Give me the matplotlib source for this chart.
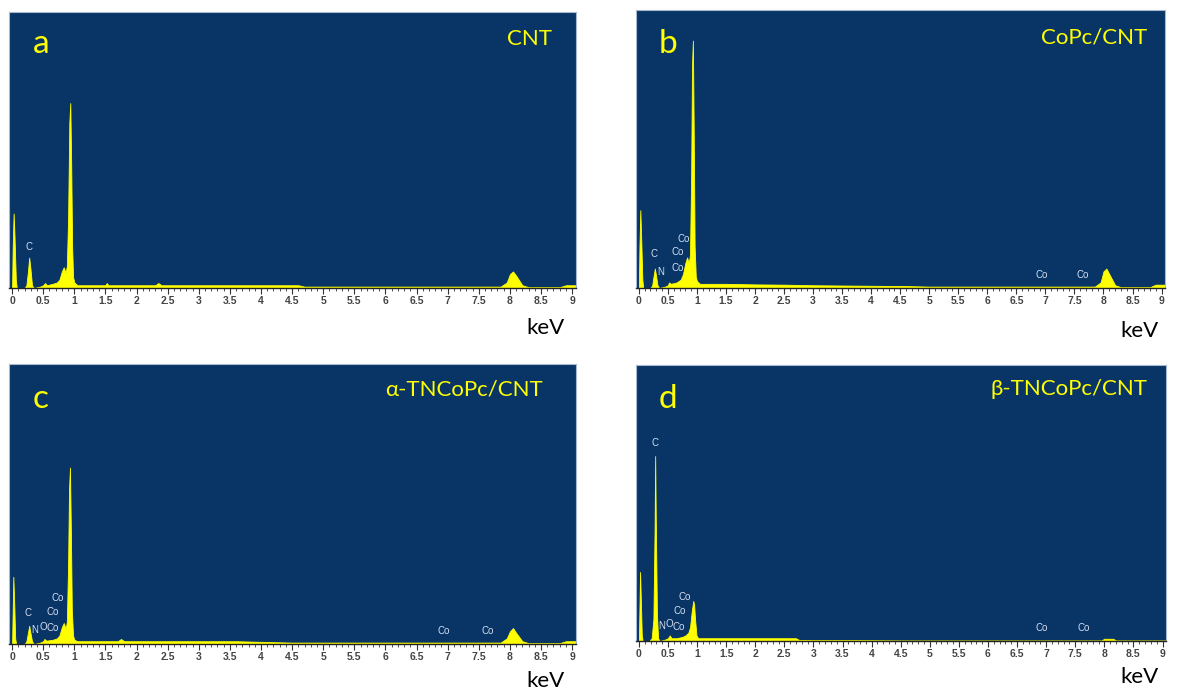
import matplotlib
matplotlib.use("Agg")
import matplotlib.pyplot as plt
import numpy as np
from matplotlib.ticker import MultipleLocator

# EDS spectra, outline points (energy in keV, counts in % of full scale)
e_a = [0.0, 0.01, 0.025, 0.04, 0.06, 0.075, 0.20, 0.23, 0.255, 0.275, 0.295, 0.32, 0.35, 0.45, 0.50,
       0.53, 0.56, 0.65, 0.72, 0.76, 0.80, 0.83, 0.86, 0.88, 0.90, 0.92, 0.935, 0.95, 0.965, 0.98, 1.0,
       1.05, 1.5, 1.52, 1.55, 2.3, 2.35, 2.4, 3.5, 4.6, 4.7, 5.0, 7.85, 7.95, 8.0, 8.05, 8.1, 8.2, 8.3,
       8.8, 8.9, 9.05]
c_a = [0, 15, 27, 18, 3, 0, 0, 1, 6, 11, 7, 1, 0, 0.5, 1,
       1.8, 1, 1.5, 2, 3, 6, 7.5, 5.5, 8, 25, 60, 67, 45, 15, 4, 2,
       1, 1, 1.8, 1, 1, 1.8, 1, 1, 1, 0.5, 0.5, 0.5, 2, 5, 6, 4.5, 1, 0.3,
       0.3, 1, 1]

e_b = [0.0, 0.01, 0.025, 0.04, 0.06, 0.075, 0.20, 0.23, 0.255, 0.275, 0.295, 0.32, 0.35, 0.45, 0.50,
       0.52, 0.55, 0.65, 0.72, 0.76, 0.80, 0.83, 0.86, 0.88, 0.90, 0.915, 0.93, 0.945, 0.96, 0.98, 1.0,
       1.05, 1.5, 2.0, 2.5, 3.0, 4.0, 4.6, 5.0, 7.85, 7.95, 8.0, 8.05, 8.1, 8.2, 8.3, 8.8, 8.9, 9.05]
c_b = [0, 15, 28, 18, 3, 0, 0, 1, 4.5, 7, 4.5, 1, 0, 0.5, 1,
       2, 1.5, 2, 3, 5, 9, 11, 9, 12, 40, 80, 89, 55, 15, 4, 2.5,
       1.5, 1.5, 1.3, 1.2, 1, 0.8, 0.7, 0.5, 0.5, 2, 6, 7, 5, 1, 0.3, 0.3, 1.2, 1.2]

e_c = [0.0, 0.01, 0.02, 0.035, 0.05, 0.065, 0.20, 0.23, 0.255, 0.275, 0.295, 0.32, 0.35, 0.45, 0.50,
       0.52, 0.55, 0.65, 0.72, 0.76, 0.80, 0.83, 0.86, 0.88, 0.90, 0.915, 0.93, 0.945, 0.96, 0.98, 1.0,
       1.05, 1.7, 1.75, 1.8, 3.6, 4.5, 5.0, 7.85, 7.95, 8.0, 8.05, 8.1, 8.2, 8.3, 8.8, 8.9, 9.05]
c_c = [0, 12, 24, 14, 2, 0, 0, 1, 4, 6.5, 4, 1, 0, 0.5, 1,
       1.8, 1.2, 1.5, 2, 3, 6, 7.5, 5.5, 8, 28, 55, 63, 40, 12, 3, 1.5,
       1, 1, 1.8, 1, 1, 0.5, 0.5, 0.5, 2, 4.5, 5.7, 4, 1, 0.3, 0.3, 1, 1]

e_d = [0.0, 0.01, 0.02, 0.035, 0.05, 0.065, 0.18, 0.22, 0.25, 0.27, 0.28, 0.29, 0.31, 0.33, 0.36,
       0.45, 0.50, 0.53, 0.56, 0.65, 0.75, 0.80, 0.85, 0.88, 0.91, 0.935, 0.95, 0.965, 0.99, 1.02,
       1.1, 2.0, 2.7, 2.75, 3.0, 3.8, 4.5, 7.95, 8.0, 8.15, 8.2, 9.05]
c_d = [0, 12, 25, 14, 2, 0, 0, 1, 8, 40, 67, 45, 10, 1, 0,
       0.5, 1, 2, 1, 1, 1.5, 2, 3, 5, 11, 14.5, 13, 8, 2, 1,
       1, 1, 1, 0.4, 0.3, 0.3, 0.2, 0.2, 0.8, 0.8, 0.2, 0.2]

# element tags: (text, energy, height)
tags_a = [("C", 0.27, 13)]
tags_b = [("C", 0.26, 10.5), ("N", 0.38, 4), ("Co", 0.67, 5.5), ("Co", 0.67, 11), ("Co", 0.77, 16),
          ("Co", 6.93, 3), ("Co", 7.65, 3)]
tags_c = [("C", 0.26, 9.3), ("N", 0.36, 3.2), ("O", 0.50, 4.3), ("Co", 0.65, 4), ("Co", 0.65, 9.6),
          ("Co", 0.74, 14.6), ("Co", 6.93, 3), ("Co", 7.65, 3)]
tags_d = [("C", 0.27, 70), ("N", 0.39, 3.5), ("O", 0.53, 4.5), ("Co", 0.68, 3.3), ("Co", 0.70, 9),
          ("Co", 0.79, 14), ("Co", 6.93, 3), ("Co", 7.65, 3)]

letters = ["a", "b", "c", "d"]
titles = ["CNT", "CoPc/CNT", "\u03b1-TNCoPc/CNT", "\u03b2-TNCoPc/CNT"]

BG = "#083566"
YEL = "#FFFF00"
FONT = ["Lato", "DejaVu Sans"]
NARROW = ["Liberation Sans Narrow", "Liberation Sans", "DejaVu Sans"]

fig = plt.figure(figsize=(11.81, 6.91), dpi=100)
boxes = [[0.0076, 0.5832, 0.4800, 0.3994],
         [0.5385, 0.5832, 0.4480, 0.4023],
         [0.0076, 0.0680, 0.4800, 0.4052],
         [0.5385, 0.0724, 0.4488, 0.3994]]
spectra = [(e_a, c_a, tags_a), (e_b, c_b, tags_b), (e_c, c_c, tags_c), (e_d, c_d, tags_d)]
tpos = [(0.958, 0.88), (0.966, 0.88), (0.942, 0.889), (0.966, 0.89)]
lpos = [(0.042, 0.851), (0.042, 0.845), (0.042, 0.843), (0.042, 0.844)]
kev = [(0.462, 0.516), (0.965, 0.512), (0.462, 0.006), (0.965, 0.012)]

for i, (box, (e, c, tags)) in enumerate(zip(boxes, spectra)):
    ax = fig.add_axes(box)
    ax.set_facecolor(BG)
    ax.fill_between(e, c, 0, color=YEL, lw=0.6, edgecolor=YEL)
    for t, x, y in tags:
        ax.text(x, y, t, color="#D6DEF0", fontsize=7, ha="center", va="bottom", family=NARROW)
    ax.set_xlim(-0.05, 9.06)
    ax.set_ylim(0, 100)
    ax.xaxis.set_minor_locator(MultipleLocator(0.1))
    ax.set_xticks(np.arange(0, 9.01, 0.5))
    ax.set_xticklabels(["%g" % v for v in np.arange(0, 9.01, 0.5)])
    ax.tick_params(axis="x", which="major", length=4, width=0.8, color="#333333", pad=2,
                   labelsize=7.5, labelcolor="#444444")
    ax.tick_params(axis="x", which="minor", length=2, width=0.6, color="#333333")
    for lb in ax.get_xticklabels():
        lb.set_family(NARROW)
        lb.set_fontweight("bold")
    ax.set_yticks([])
    for s in ["top", "left", "right"]:
        ax.spines[s].set_color("#A8B8D0")
        ax.spines[s].set_linewidth(0.8)
    ax.spines["bottom"].set_color("#222222")
    ax.spines["bottom"].set_linewidth(1.0)
    ax.text(*lpos[i], letters[i], transform=ax.transAxes, color=YEL, fontsize=24,
            family=FONT, ha="left", va="baseline")
    ax.text(*tpos[i], titles[i], transform=ax.transAxes, color=YEL, fontsize=16,
            family=FONT, ha="right", va="baseline")
    fig.text(*kev[i], "keV", fontsize=16, color="black", family=FONT, ha="center", va="baseline")

fig.savefig("out.png", dpi=100)
